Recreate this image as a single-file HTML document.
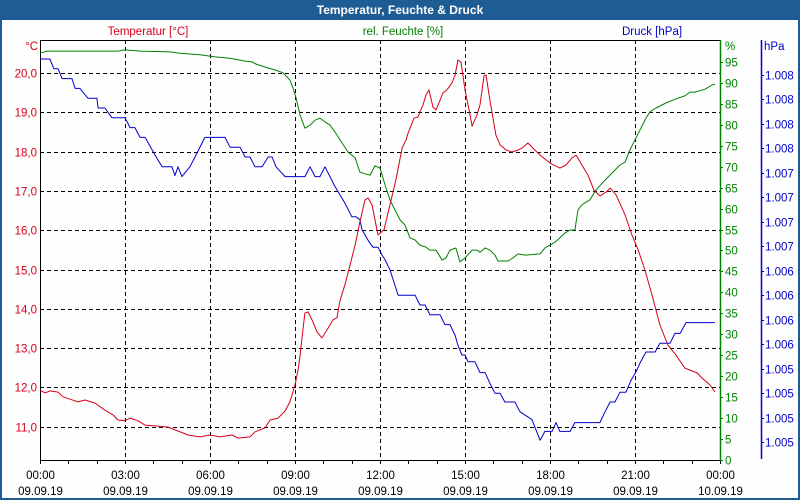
<!DOCTYPE html>
<html><head><meta charset="utf-8">
<style>
html,body{margin:0;padding:0;background:#fff;}
#wrap{position:relative;width:796px;height:498px;border:2px solid #1e5c94;border-top:none;background:#fefefe;overflow:hidden;}
#title{position:absolute;left:0;top:0;width:796px;height:20px;background:#1e5c94;color:#fff;font:bold 12px "Liberation Sans",sans-serif;text-align:center;line-height:20px;}
svg text{font-family:"Liberation Sans",sans-serif;font-size:11.5px;}
</style></head><body>
<div id="wrap">
<div id="title">Temperatur, Feuchte &amp; Druck</div>
<svg id="chart" width="796" height="498" style="position:absolute;left:0;top:0"></svg>
</div>
<script>
// ---- data ----
const tempTimes=[0,0.18,0.35,0.64,0.81,1.06,1.34,1.59,1.94,2.29,2.58,2.75,3.0,3.18,3.46,3.71,4.06,4.52,4.87,5.22,5.65,6.0,6.35,6.78,6.99,7.41,7.59,7.94,8.12,8.4,8.65,8.82,9.0,9.11,9.18,9.28,9.35,9.46,9.6,9.78,9.95,10.13,10.34,10.48,10.59,10.76,10.94,11.12,11.29,11.47,11.58,11.72,11.86,11.93,12.14,12.35,12.56,12.78,12.92,12.99,13.2,13.34,13.41,13.52,13.62,13.73,13.87,13.98,14.12,14.22,14.36,14.54,14.65,14.75,14.86,15.0,15.18,15.25,15.42,15.53,15.67,15.74,15.88,16.09,16.24,16.45,16.66,16.87,17.01,17.22,17.4,17.65,17.86,18.07,18.35,18.56,18.78,18.92,19.06,19.34,19.55,19.76,19.98,20.12,20.33,20.65,20.89,21.11,21.35,21.6,21.88,22.16,22.45,22.76,22.94,23.19,23.36,23.65,23.82];
const tempValues=[11.93,11.86,11.91,11.88,11.76,11.70,11.63,11.68,11.60,11.42,11.30,11.17,11.15,11.22,11.15,11.04,11.02,10.99,10.89,10.79,10.74,10.79,10.74,10.79,10.71,10.74,10.87,10.97,11.17,11.22,11.40,11.63,12.06,12.44,12.82,13.46,13.89,13.92,13.72,13.41,13.26,13.46,13.72,13.77,14.22,14.61,15.11,15.62,16.21,16.77,16.82,16.64,16.13,15.88,16.01,16.64,17.28,18.09,18.30,18.47,18.85,18.88,19.01,19.19,19.44,19.57,19.13,19.06,19.31,19.49,19.57,19.75,19.95,20.33,20.28,19.57,18.93,18.65,18.93,19.19,19.92,19.95,19.31,18.42,18.17,18.04,17.99,18.04,18.09,18.22,18.09,17.91,17.79,17.68,17.58,17.66,17.84,17.91,17.74,17.40,17.02,16.87,16.97,17.07,16.90,16.39,15.88,15.50,14.99,14.35,13.59,13.08,12.82,12.49,12.44,12.37,12.24,12.06,11.88,11.73];
const humTimes=[0,0.25,1.41,2.75,3.0,3.53,4.59,4.94,5.29,5.65,6.18,6.71,7.24,7.48,7.62,7.94,8.29,8.58,8.82,8.93,9.04,9.18,9.35,9.53,9.71,9.88,10.06,10.24,10.41,10.59,10.87,11.12,11.29,11.47,11.65,11.82,12.0,12.18,12.35,12.53,12.71,12.88,13.06,13.24,13.41,13.62,13.76,13.98,14.19,14.33,14.47,14.68,14.82,15.0,15.25,15.42,15.53,15.71,15.88,16.06,16.16,16.52,16.69,16.87,17.12,17.65,17.82,18.0,18.18,18.35,18.53,18.71,18.88,18.99,19.13,19.41,19.62,19.94,20.29,20.47,20.65,20.82,21.0,21.18,21.39,21.53,21.74,22.09,22.45,22.76,22.94,23.12,23.47,23.72,23.82];
const humValues=[97.1,97.6,97.6,97.6,97.9,97.6,97.4,97.1,96.9,96.7,96.2,95.9,95.2,95.0,94.5,93.8,93.1,92.4,90.7,88.8,86.4,82.3,79.2,79.9,81.1,81.6,80.7,79.9,78.3,76.4,73.5,72.1,68.7,68.3,68.0,70.2,69.7,65.6,62.1,59.7,57.3,56.1,53.0,52.5,51.3,50.8,50.1,50.1,47.7,48.2,50.1,50.6,47.3,48.2,50.1,50.1,49.6,50.6,50.1,48.9,47.5,47.5,48.2,49.2,48.9,49.2,50.6,51.3,52.0,53.0,54.2,54.9,54.9,59.7,60.9,62.1,64.4,66.8,69.2,70.4,71.1,74.0,76.4,78.8,81.6,83.1,84.0,85.2,86.2,86.9,87.8,87.8,88.5,89.5,89.7];
const presTimes=[0,0.35,0.49,0.64,0.78,1.13,1.24,1.41,1.69,2.01,2.05,2.29,2.54,2.75,3.0,3.18,3.35,3.53,3.71,4.06,4.31,4.66,4.76,4.87,5.01,5.29,5.47,5.82,6.18,6.53,6.71,7.06,7.24,7.41,7.59,7.84,8.05,8.19,8.33,8.65,9.0,9.18,9.35,9.53,9.71,9.88,10.06,10.41,10.76,11.01,11.15,11.29,11.36,11.58,11.75,11.93,12.07,12.18,12.35,12.53,12.64,12.85,13.24,13.41,13.59,13.76,14.12,14.29,14.47,14.65,14.75,14.89,15.0,15.11,15.35,15.53,15.71,15.88,16.06,16.24,16.41,16.76,16.94,17.36,17.65,17.82,18.07,18.21,18.35,18.71,18.88,19.76,19.94,20.12,20.29,20.47,20.68,20.86,21.04,21.18,21.39,21.71,21.88,22.24,22.41,22.59,22.8,23.82];
const presValues=[1008.70,1008.70,1008.60,1008.60,1008.50,1008.50,1008.40,1008.40,1008.30,1008.30,1008.20,1008.20,1008.10,1008.10,1008.10,1008.00,1008.00,1007.90,1007.90,1007.72,1007.60,1007.60,1007.51,1007.60,1007.50,1007.60,1007.70,1007.90,1007.90,1007.90,1007.80,1007.80,1007.70,1007.70,1007.60,1007.60,1007.70,1007.70,1007.60,1007.50,1007.50,1007.50,1007.50,1007.60,1007.50,1007.50,1007.60,1007.40,1007.23,1007.09,1007.09,1007.06,1006.96,1006.85,1006.78,1006.78,1006.70,1006.65,1006.55,1006.39,1006.29,1006.29,1006.29,1006.19,1006.19,1006.09,1006.09,1005.99,1005.99,1005.88,1005.78,1005.68,1005.68,1005.61,1005.61,1005.50,1005.50,1005.39,1005.29,1005.29,1005.20,1005.20,1005.10,1005.02,1004.81,1004.90,1004.90,1004.99,1004.90,1004.90,1004.99,1004.99,1005.10,1005.20,1005.20,1005.30,1005.30,1005.42,1005.51,1005.60,1005.71,1005.71,1005.80,1005.80,1005.90,1005.90,1006.01,1006.01];
const tempTicks=[11,12,13,14,15,16,17,18,19,20];
const humTicks=[0,5,10,15,20,25,30,35,40,45,50,55,60,65,70,75,80,85,90,95];
const presTicks=[1004.79,1005.04,1005.29,1005.54,1005.79,1006.04,1006.29,1006.54,1006.79,1007.04,1007.29,1007.54,1007.79,1008.04,1008.29,1008.54];
const presTickLabels=["1.005","1.005","1.005","1.005","1.006","1.006","1.006","1.006","1.007","1.007","1.007","1.007","1.008","1.008","1.008","1.008"];
const timeTicks=[0,3,6,9,12,15,18,21,24];
const timeLabels=["00:00","03:00","06:00","09:00","12:00","15:00","18:00","21:00","00:00"];
const dateLabels=["09.09.19","09.09.19","09.09.19","09.09.19","09.09.19","09.09.19","09.09.19","09.09.19","10.09.19"];

// ---- scales (svg coords: page x-2) ----
const OX=-2, L=40, R=720, T=40, B=460;
const xS=h=>L+OX+(h/24)*(R-L);
const tS=v=>73+(20-v)*39.3;
const hS=v=>460-v*4.19;
const pS=v=>59+(1008.7-v)*98;
const RED="#d4001a",GRN="#008000",BLU="#0000cc";
const svg=document.getElementById('chart');
const NS="http://www.w3.org/2000/svg";
function mk(tag,attrs){const e=document.createElementNS(NS,tag);for(const k in attrs)e.setAttribute(k,attrs[k]);svg.appendChild(e);return e;}
function txt(x,y,s,fill,anchor){const e=mk('text',{x:x,y:y,fill:fill,'text-anchor':anchor});e.textContent=s;return e;}

// grid
tempTicks.forEach(v=>{const y=Math.round(tS(v))+0.5;
 const g=mk('line',{x1:L+OX,x2:R+OX,y1:y,y2:y,stroke:'#000','stroke-dasharray':'4,3'});
 
 
 const t=txt(L+OX-3,y+4,v.toFixed(1).replace('.',','),RED,'end');
 
 
});
timeTicks.forEach((h,i)=>{const x=Math.round(xS(h))+0.5;
 if(i>0&&i<timeTicks.length-1){const g=mk('line',{x1:x,x2:x,y1:T,y2:B,stroke:'#000','stroke-dasharray':'4,3'});
 
 }
 const a=txt(x,479,timeLabels[i],'#000','middle');
 
 
 const b=txt(x,495,dateLabels[i],'#000','middle');
 
 
});
for(let h=0;h<=24;h++){const x=Math.round(xS(h))+0.5;
 const m=mk('line',{x1:x,x2:x,y1:B,y2:B+4,stroke:'#000'});
 
 }
// axes
const ax1=mk('path',{d:`M${L+OX+0.5},${B}V${T+0.5}H${R+OX}`,stroke:'#000',fill:'none'});


const ax2=mk('line',{x1:L+OX,x2:R+OX,y1:B+0.5,y2:B+0.5,stroke:'#000'});


const ax3=mk('line',{x1:R+OX+0.5,x2:R+OX+0.5,y1:T,y2:B+1,stroke:GRN,'stroke-width':1.5});


humTicks.forEach(v=>{const y=Math.round(hS(v))+0.5;
 const m=mk('line',{x1:R+OX,x2:R+OX+3,y1:y,y2:y,stroke:GRN});
 
 
 const t=txt(R+OX+5,y+4,String(v),GRN,'start');
 
 });
const ax4=mk('line',{x1:759.5,x2:759.5,y1:T,y2:B-1,stroke:BLU,'stroke-width':1.5});


presTicks.forEach((v,i)=>{const y=Math.round(pS(v))+0.5;
 const m=mk('line',{x1:759,x2:762,y1:y,y2:y,stroke:BLU});
 
 
 const t=txt(763,y+4,presTickLabels[i],BLU,'start');
 
 });
// unit & series labels
let e;
e=txt(36,50,'°C',RED,'end');
e=txt(723,50,'%',GRN,'start');
e=txt(762,50,'hPa',BLU,'start');
e=txt(146,35,'Temperatur [°C]',RED,'middle');
e=txt(401,35,'rel. Feuchte [%]',GRN,'middle');
e=txt(650,35,'Druck [hPa]',BLU,'middle');
// series
function line(ts,vs,sc,col,name){const d=ts.map((t,i)=>(i?'L':'M')+xS(t).toFixed(1)+','+sc(vs[i]).toFixed(1)).join('');
 const p=mk('path',{d:d,stroke:col,fill:'none','stroke-width':1,'stroke-linejoin':'round'});
 
 }
line(humTimes,humValues,hS,GRN,'humidity-line');
line(presTimes,presValues,pS,BLU,'pressure-line');
line(tempTimes,tempValues,tS,RED,'temperature-line');
</script>
</body></html>
